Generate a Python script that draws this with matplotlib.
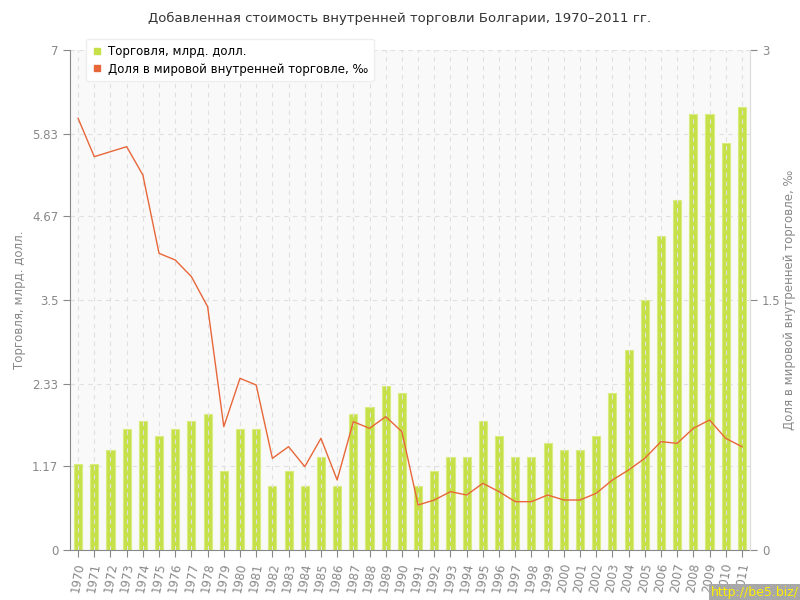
import matplotlib
matplotlib.use("Agg")
import matplotlib.pyplot as plt
import numpy as np

years = [str(y) for y in range(1970, 2012)]
trade = [1.2, 1.2, 1.4, 1.7, 1.8, 1.6, 1.7, 1.8, 1.9, 1.1,
         1.7, 1.7, 0.9, 1.1, 0.9, 1.3, 0.9, 1.9, 2.0, 2.3,
         2.2, 0.9, 1.1, 1.3, 1.3, 1.8, 1.6, 1.3, 1.3, 1.5,
         1.4, 1.4, 1.6, 2.2, 2.8, 3.5, 4.4, 4.9, 6.1, 6.1,
         5.7, 6.2]
share = [2.59, 2.36, 2.39, 2.42, 2.25, 1.78, 1.74, 1.64, 1.46, 0.74,
         1.03, 0.99, 0.55, 0.62, 0.50, 0.67, 0.42, 0.77, 0.73, 0.80,
         0.71, 0.27, 0.30, 0.35, 0.33, 0.40, 0.35, 0.29, 0.29, 0.33,
         0.30, 0.30, 0.34, 0.42, 0.48, 0.55, 0.65, 0.64, 0.73, 0.78,
         0.67, 0.62]
left_ticks = [0, 1.17, 2.33, 3.5, 4.67, 5.83, 7]
left_labels = ["0", "1.17", "2.33", "3.5", "4.67", "5.83", "7"]
right_ticks = [0, 1.5, 3]
right_labels = ["0", "1.5", "3"]

title = "Добавленная стоимость внутренней торговли Болгарии, 1970–2011 гг."
s1 = "Торговля, млрд. долл."
s2 = "Доля в мировой внутренней торговле, ‰"

plt.rcParams['font.family'] = ['DejaVu Sans']
gray = "#888888"
bar_c = "#c6e04a"
line_c = "#e8673a"

fig = plt.figure(figsize=(8, 6), dpi=100)
ax = fig.add_axes([70/800, 50/600, 680/800, 500/600])
ax.set_facecolor("#f9f9f9")
x = np.arange(len(years))
ax.bar(x, trade, width=0.5, color=bar_c, edgecolor="#d8ec80", linewidth=0.8, zorder=2)
ax.set_xlim(-0.5, len(years) - 0.5)
ax.set_ylim(0, 7)
ax.set_yticks(left_ticks)
ax.set_yticklabels(left_labels)
ax.set_xticks(x)
ax.set_xticklabels(years, rotation=80, ha="center", va="top")
for xi in x:
    ax.axvline(xi, color="#e0e0e0", ls=(0, (4, 4)), lw=0.8, zorder=3)
for yt in left_ticks[1:]:
    ax.axhline(yt, color="#e0e0e0", ls=(0, (4, 4)), lw=0.8, zorder=1)
ax.tick_params(axis="both", colors=gray, labelsize=8.5, length=5, width=0.8, labelcolor=gray)
ax.spines["top"].set_visible(False)
ax.spines["left"].set_color(gray)
ax.spines["bottom"].set_color(gray)
ax.spines["right"].set_color("#dddddd")
ax.set_ylabel(s1, color=gray, fontsize=8.5, labelpad=4)

ax2 = ax.twinx()
ax2.plot(x, share, color=line_c, lw=1.0, zorder=4)
ax2.set_ylim(0, 3)
ax2.set_yticks(right_ticks)
ax2.set_yticklabels(right_labels)
ax2.tick_params(axis="y", colors=gray, labelsize=8.5, length=5, width=0.8, labelcolor=gray)
for sp in ["top", "left", "bottom"]:
    ax2.spines[sp].set_visible(False)
ax2.spines["right"].set_color("#dddddd")
ax2.set_ylabel(s2, color=gray, fontsize=8.5, labelpad=2)

fig.text(0.5, 1 - 18/600, title, ha="center", va="center", fontsize=9.5, color="#333333")

from matplotlib.lines import Line2D
handles = [Line2D([], [], marker="s", ls="none", color=bar_c, markersize=5),
           Line2D([], [], marker="s", ls="none", color=line_c, markersize=5)]
leg = fig.legend(handles, [s1, s2], loc="upper left", bbox_to_anchor=(80/800, 1 - 33/600),
                 fontsize=8.5, frameon=True, fancybox=True, handlelength=0.8,
                 handletextpad=0.6, labelspacing=0.4, borderpad=0.5)
leg.get_frame().set_edgecolor("#eeeeee")
leg.get_frame().set_facecolor("white")
leg.get_frame().set_alpha(1)

fig.text(0.998, 0.002, "http://be5.biz/", ha="right", va="bottom", fontsize=9, color="#ffee00",
         bbox=dict(boxstyle="square,pad=0.15", fc="#a8a8a8", ec="none"))

fig.savefig("out.png", dpi=100, facecolor="white")
